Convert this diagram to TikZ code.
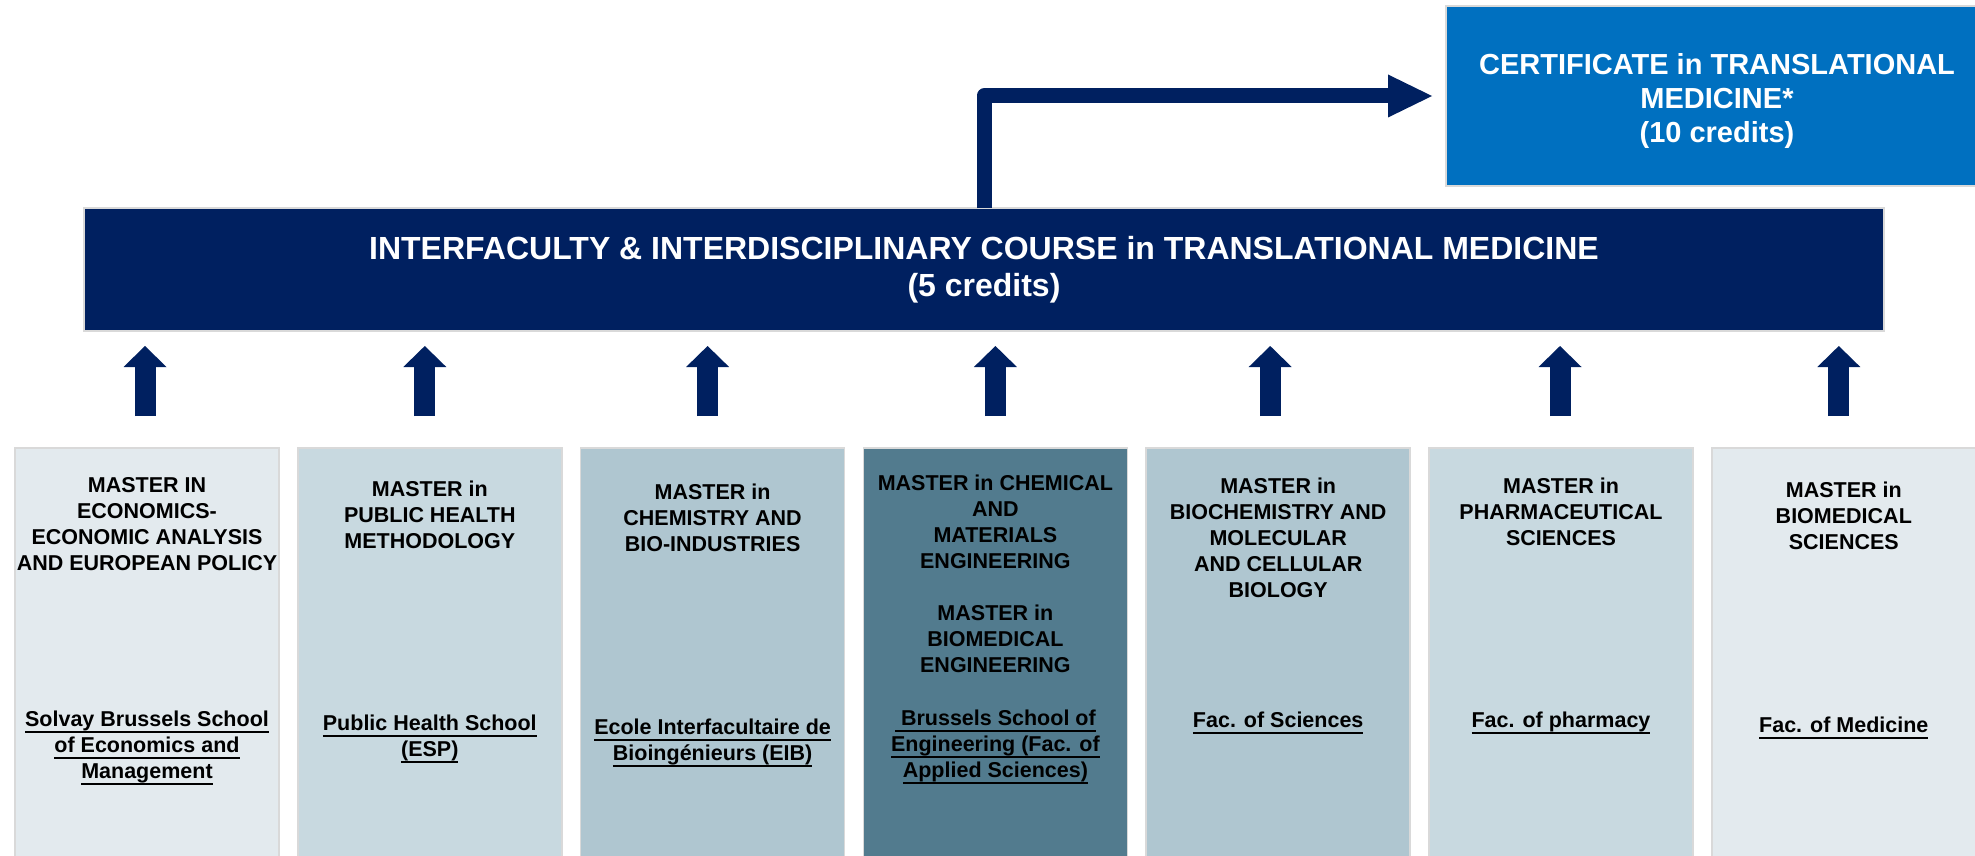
\documentclass[tikz,border=0pt]{standalone}
\usepackage{fontspec}
\setmainfont{Liberation Sans}
\usepackage{xcolor}
\usepackage{tikz}
\usetikzlibrary{calc, arrows.meta, positioning}

\definecolor{navy}{HTML}{002060}
\definecolor{certblue}{HTML}{0070C0}
\definecolor{paleA}{HTML}{E3EAEE}
\definecolor{paleB}{HTML}{C8D9E0}
\definecolor{paleC}{HTML}{AFC6D0}
\definecolor{deepteal}{HTML}{527B8E}
\definecolor{rimgray}{HTML}{D9D9D9}

% underlined school names (fixed offset under the baseline)
\newcommand{\ulname}[1]{\setbox0\hbox{#1}\rlap{\rule[-6pt]{\wd0}{2pt}}\box0}

\begin{document}
\begin{tikzpicture}[x=1pt, y=-1pt, every node/.style={font=\bfseries},
  panel/.style={draw=rimgray, line width=1.5pt, inner sep=0pt, outer sep=0pt, align=center},
  master/.style={panel, minimum width=264pt, minimum height=412pt},
  headtxt/.style={anchor=north, inner sep=0pt, align=center, font=\bfseries\fontsize{21.5}{26}\selectfont},
  schooltxt/.style={headtxt},
  rise/.style={navy, line width=21pt, shorten <=32pt, shorten >=15pt,
    -{Triangle[length=21pt, width=43pt, line width=0pt]}},
  bent/.style={navy, line width=15pt, line join=round, shorten >=14pt,
    -{Triangle[length=44pt, width=43pt, line width=0pt]}}]

\path[use as bounding box, fill=white] (0,0) rectangle (1975,856);

% ------------------------------------------------------------------
% COURSE BAR and CERTIFICATE
% ------------------------------------------------------------------
\node[panel, fill=navy, text=white, minimum width=1800pt, minimum height=123pt,
      font=\bfseries\fontsize{32}{37}\selectfont] (course) at (984,269.5)
  {INTERFACULTY \& INTERDISCIPLINARY COURSE in TRANSLATIONAL MEDICINE\\(5 credits)};

\node[panel, fill=certblue, text=white, minimum width=542pt, minimum height=180pt,
      font=\bfseries\fontsize{29}{34}\selectfont] (cert) at (1717,96)
  {\rule{0pt}{31pt}CERTIFICATE in TRANSLATIONAL\\MEDICINE*\\(10 credits)};

\draw[bent] (course.north) |- (cert.west);

% ------------------------------------------------------------------
% MASTER COLUMNS
% ------------------------------------------------------------------
\node[master, fill=paleA, anchor=north west] (b1) at (15,448) {};
\node[master, fill=paleB, right=18.8pt of b1] (b2) {};
\node[master, fill=paleC, right=18.8pt of b2] (b3) {};
\node[master, fill=deepteal, right=18.8pt of b3] (b4) {};
\node[master, fill=paleC, right=18.8pt of b4] (b5) {};
\node[master, fill=paleB, right=18.8pt of b5] (b6) {};
\node[master, fill=paleA, right=18.8pt of b6] (b7) {};

% programme titles
\node[headtxt, below=29pt of b1.north] (h1) {MASTER IN\\ECONOMICS-\\ECONOMIC ANALYSIS\\AND EUROPEAN POLICY};
\node[headtxt, below=33pt of b2.north] (h2) {MASTER in\\PUBLIC HEALTH\\METHODOLOGY};
\node[headtxt, below=36pt of b3.north] (h3) {MASTER in\\CHEMISTRY AND\\BIO-INDUSTRIES};
\node[headtxt, below=27pt of b4.north] (h4) {MASTER in CHEMICAL\\AND\\MATERIALS\\ENGINEERING\\[26pt]MASTER in\\BIOMEDICAL\\ENGINEERING};
\node[headtxt, below=30pt of b5.north] (h5) {MASTER in\\BIOCHEMISTRY AND\\MOLECULAR\\AND CELLULAR\\BIOLOGY};
\node[headtxt, below=30pt of b6.north] (h6) {MASTER in\\PHARMACEUTICAL\\SCIENCES};
\node[headtxt, below=34pt of b7.north] (h7) {MASTER in\\BIOMEDICAL\\SCIENCES};

% faculties
\node[schooltxt, below=263pt of b1.north] (s1) {\ulname{Solvay Brussels School}\\\ulname{of Economics and}\\\ulname{Management}};
\node[schooltxt, below=267pt of b2.north] (s2) {\ulname{Public Health School}\\\ulname{(ESP)}};
\node[schooltxt, below=271pt of b3.north] (s3) {\ulname{Ecole Interfacultaire de}\\\ulname{Bioingénieurs (EIB)}};
\node[schooltxt, below=262pt of b4.north] (s4) {\ulname{\ Brussels School of}\\\ulname{Engineering (Fac. of}\\\ulname{Applied Sciences)}};
\node[schooltxt, below=264pt of b5.north] (s5) {\ulname{Fac. of Sciences}};
\node[schooltxt, below=264pt of b6.north] (s6) {\ulname{Fac. of pharmacy}};
\node[schooltxt, below=269pt of b7.north] (s7) {\ulname{Fac. of Medicine}};

% ------------------------------------------------------------------
% ARROWS up to the course
% ------------------------------------------------------------------
\foreach \b/\dx in {b1/-2, b2/-5, b3/-5, b4/0, b5/-8, b6/-1, b7/-5}
  \draw[rise] ($(\b.north)+(\dx,0)$) -- ($(\b.north |- course.south)+(\dx,0)$);

\end{tikzpicture}
\end{document}
